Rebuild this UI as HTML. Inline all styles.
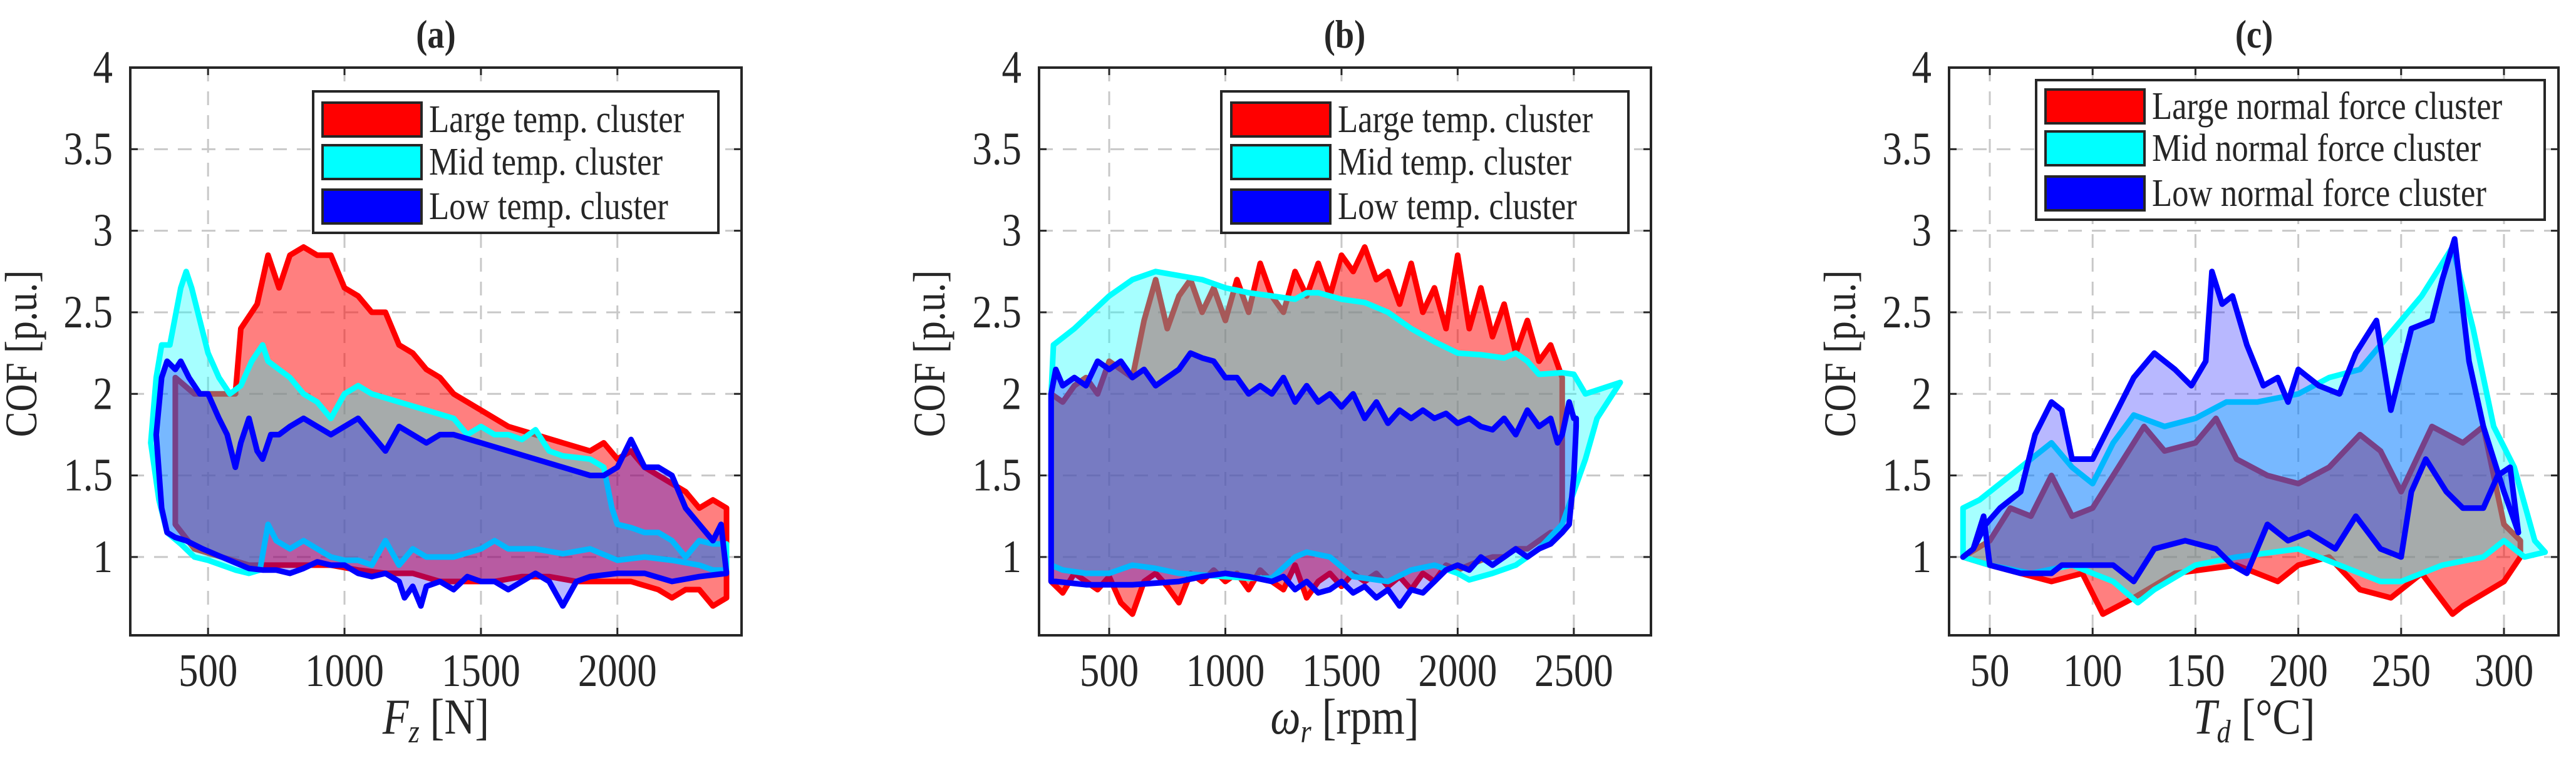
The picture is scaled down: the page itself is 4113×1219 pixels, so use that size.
<!DOCTYPE html>
<html><head><meta charset="utf-8"><style>
html,body{margin:0;padding:0;background:#fff;}
svg{display:block;}
text{font-family:"Liberation Serif",serif;fill:#262626;}
</style></head><body>
<svg id="fig" width="4113" height="1219" viewBox="0 0 4113 1219" xmlns="http://www.w3.org/2000/svg"></svg>
<script>
// ---------- Panel (a): COF vs Fz ----------
const aRedUX=[380,450,550,600,620,680,720,760,800,850,900,950,1000,1050,1100,1150,1200,1250,1300,1350,1400,1450,1500,1600,1700,1800,1900,1950,2000,2050,2100,2150,2200,2250,2300,2350,2400];
const aRedUY=[2.1,2.0,2.0,2.0,2.4,2.55,2.85,2.65,2.85,2.9,2.85,2.85,2.65,2.6,2.5,2.5,2.3,2.25,2.15,2.1,2.0,1.95,1.9,1.8,1.75,1.7,1.65,1.7,1.6,1.65,1.55,1.5,1.45,1.4,1.3,1.35,1.3];
const aRedLX=[380,450,550,650,750,850,950,1050,1150,1250,1350,1450,1550,1650,1750,1850,1950,2050,2150,2200,2250,2300,2350,2400];
const aRedLY=[1.2,1.05,1.0,0.95,0.95,0.95,0.95,0.92,0.9,0.9,0.85,0.85,0.85,0.88,0.88,0.85,0.85,0.85,0.8,0.75,0.8,0.8,0.7,0.75];
const aCyanUX=[290,310,330,360,400,420,440,470,500,540,580,620,660,700,720,760,800,850,900,950,1000,1050,1100,1200,1300,1400,1450,1500,1550,1600,1650,1700,1750,1800,1900,1950,1980,2000,2050,2100,2150,2200,2250,2300,2350,2400];
const aCyanUY=[1.7,2.1,2.3,2.3,2.65,2.75,2.65,2.45,2.25,2.1,2.0,2.05,2.2,2.3,2.2,2.15,2.1,2.0,1.95,1.85,2.0,2.05,2.0,1.95,1.9,1.85,1.75,1.8,1.75,1.75,1.72,1.78,1.65,1.62,1.6,1.55,1.3,1.2,1.18,1.15,1.15,1.1,1.0,1.1,1.08,1.08];
const aCyanLX=[290,320,350,400,450,500,550,600,650,690,720,750,800,850,900,950,1000,1050,1100,1150,1200,1250,1300,1400,1500,1550,1600,1700,1800,1900,2000,2100,2200,2300,2350,2400];
const aCyanLY=[1.7,1.35,1.15,1.08,1.0,0.98,0.95,0.92,0.9,0.92,1.2,1.1,1.05,1.1,1.05,1.0,0.98,0.98,0.95,1.1,0.95,1.05,1.0,1.0,1.05,1.1,1.05,1.05,1.02,1.05,0.98,1.0,0.98,0.95,0.92,0.92];
const aBlueUX=[310,330,350,380,400,430,470,500,540,570,600,620,650,680,700,730,760,800,850,900,950,1000,1050,1100,1150,1200,1250,1300,1350,1400,1500,1600,1700,1800,1900,1950,2000,2050,2100,2150,2200,2250,2300,2350,2380,2400];
const aBlueUY=[1.75,2.1,2.2,2.15,2.2,2.1,2.0,2.0,1.85,1.75,1.55,1.7,1.85,1.65,1.6,1.75,1.75,1.8,1.85,1.8,1.75,1.8,1.85,1.75,1.65,1.8,1.75,1.7,1.75,1.75,1.7,1.65,1.6,1.55,1.5,1.5,1.55,1.72,1.55,1.55,1.5,1.3,1.2,1.1,1.2,0.9];
const aBlueLX=[310,330,350,380,420,480,550,650,700,750,800,850,900,950,1000,1050,1100,1150,1200,1220,1250,1280,1300,1350,1400,1450,1500,1550,1600,1700,1750,1800,1850,1900,2000,2100,2200,2300,2400];
const aBlueLY=[1.75,1.3,1.15,1.12,1.1,1.05,1.0,0.93,0.92,0.92,0.9,0.93,0.97,0.95,0.95,0.9,0.88,0.9,0.85,0.75,0.82,0.7,0.82,0.85,0.8,0.88,0.85,0.85,0.8,0.9,0.85,0.7,0.85,0.88,0.9,0.9,0.85,0.88,0.9];
const aXTicks=[500,1000,1500,2000];

// ---------- Panel (b): COF vs omega_r ----------
const bRedX=[250,300,350,400,450,500,550,600,650,700,750,800,850,900,950,1000,1050,1100,1150,1200,1250,1300,1350,1400,1450,1500,1550,1600,1650,1700,1750,1800,1850,1900,1950,2000,2050,2100,2150,2200,2250,2300,2350,2400,2450];
const bRedUY=[2.0,1.95,2.05,2.1,2.0,2.2,2.15,2.1,2.45,2.7,2.4,2.6,2.7,2.5,2.65,2.45,2.7,2.5,2.8,2.6,2.5,2.75,2.6,2.8,2.6,2.85,2.75,2.9,2.7,2.75,2.55,2.8,2.5,2.65,2.4,2.85,2.4,2.65,2.35,2.55,2.25,2.45,2.2,2.3,2.1];
const bRedLY=[0.85,0.78,0.9,0.85,0.8,0.88,0.72,0.65,0.85,0.9,0.82,0.72,0.9,0.85,0.92,0.85,0.9,0.8,0.92,0.85,0.8,0.95,0.75,0.85,0.9,0.82,0.9,0.85,0.9,0.82,0.88,0.8,0.9,0.85,0.95,0.92,0.95,0.98,1.0,1.0,1.05,1.05,1.1,1.15,1.15];
const bCyanUX=[250,260,350,500,600,700,900,1000,1100,1300,1350,1400,1500,1600,1700,1800,1900,2000,2100,2200,2250,2300,2350,2450,2500,2550,2700];
const bCyanUY=[2.0,2.3,2.4,2.6,2.7,2.75,2.7,2.65,2.62,2.58,2.62,2.62,2.58,2.56,2.5,2.4,2.32,2.25,2.24,2.22,2.25,2.2,2.12,2.13,2.12,2.0,2.07];
const bCyanLX=[250,300,400,500,600,700,800,1000,1100,1200,1300,1350,1450,1550,1650,1700,1800,1900,2000,2050,2150,2250,2350,2450,2550,2600,2700];
const bCyanLY=[0.95,0.92,0.9,0.9,0.95,0.93,0.9,0.88,0.87,0.87,1.0,1.03,1.0,0.88,0.86,0.85,0.92,0.95,0.9,0.86,0.9,0.95,1.05,1.2,1.6,1.85,2.07];
const bBlueUX=[250,270,300,350,400,450,500,550,600,650,700,750,800,850,900,950,1000,1050,1100,1150,1200,1250,1300,1350,1400,1450,1500,1550,1600,1650,1700,1750,1800,1850,1900,1950,2000,2050,2100,2150,2200,2250,2300,2350,2400,2430,2450,2480,2500,2510];
const bBlueUY=[2.0,2.15,2.05,2.1,2.05,2.2,2.15,2.2,2.1,2.15,2.05,2.1,2.15,2.25,2.22,2.2,2.1,2.1,2.0,2.05,2.0,2.1,1.95,2.05,1.95,2.0,1.92,2.0,1.85,1.95,1.82,1.9,1.85,1.9,1.85,1.88,1.82,1.85,1.8,1.78,1.85,1.75,1.9,1.8,1.85,1.7,1.75,1.95,1.85,1.85];
const bBlueLX=[250,270,400,600,800,900,1000,1100,1200,1250,1300,1350,1400,1450,1500,1550,1600,1650,1700,1750,1800,1850,1900,1950,2000,2050,2100,2150,2200,2250,2300,2350,2400,2450,2480,2500,2510];
const bBlueLY=[0.85,0.85,0.83,0.83,0.85,0.88,0.9,0.88,0.85,0.88,0.8,0.85,0.78,0.8,0.85,0.78,0.82,0.75,0.8,0.7,0.8,0.78,0.85,0.92,0.95,0.92,1.0,0.95,1.0,1.05,1.0,1.05,1.08,1.15,1.2,1.5,1.8];
const bXTicks=[500,1000,1500,2000,2500];

// ---------- Panel (c): COF vs Td ----------
const cRedUX=[37,50,60,70,80,90,100,110,125,135,150,160,170,185,200,215,230,240,250,265,280,290,300,308];
const cRedUY=[1.0,1.1,1.3,1.25,1.5,1.25,1.3,1.5,1.8,1.65,1.7,1.85,1.6,1.5,1.45,1.55,1.75,1.65,1.4,1.8,1.7,1.8,1.2,1.1];
const cRedLX=[37,50,80,95,105,120,140,170,190,200,215,230,245,260,275,280,300,308];
const cRedLY=[1.0,0.95,0.85,0.9,0.65,0.75,0.9,0.95,0.85,0.95,1.0,0.8,0.75,0.9,0.65,0.7,0.85,1.0];
const cCyanUX=[37,45,60,70,80,90,100,110,120,135,150,165,180,200,215,230,240,260,275,285,295,305,315,320];
const cCyanUY=[1.3,1.35,1.5,1.6,1.7,1.55,1.45,1.7,1.87,1.8,1.85,1.95,1.95,2.0,2.1,2.15,2.3,2.6,2.9,2.4,1.8,1.55,1.1,1.03];
const cCyanLX=[37,50,70,90,110,122,130,150,170,200,220,240,250,270,290,300,310,320];
const cCyanLY=[1.0,0.95,0.9,0.95,0.85,0.72,0.8,0.95,1.0,1.05,0.95,0.85,0.85,0.95,1.0,1.1,1.0,1.03];
const cBlueUX=[37,42,48,55,65,72,80,85,90,100,110,120,130,140,148,155,158,163,168,175,183,190,195,200,210,220,228,238,245,255,265,270,276,283,290,300,307];
const cBlueUY=[1.0,1.05,1.2,1.3,1.4,1.75,1.95,1.9,1.6,1.6,1.85,2.1,2.25,2.15,2.05,2.2,2.75,2.55,2.6,2.3,2.05,2.1,1.95,2.15,2.05,2.0,2.25,2.45,1.9,2.4,2.45,2.7,2.95,2.2,1.8,1.4,1.15];
const cBlueLX=[37,42,47,50,65,80,85,95,110,120,130,145,160,168,175,185,195,205,218,228,240,250,255,262,272,280,290,297,303,307];
const cBlueLY=[1.0,1.05,1.25,0.95,0.9,0.9,0.95,0.95,0.95,0.85,1.05,1.1,1.05,0.95,0.9,1.2,1.1,1.15,1.05,1.25,1.05,1.0,1.4,1.6,1.4,1.3,1.3,1.5,1.55,1.15];
const cXTicks=[50,100,150,200,250,300];

const yTicks=[1,1.5,2,2.5,3,3.5,4];
const yTickLabels=["1","1.5","2","2.5","3","3.5","4"];

const NS="http://www.w3.org/2000/svg";
const fig=document.getElementById('fig');
function mk(tag,attrs,parent){const e=document.createElementNS(NS,tag);for(const k in attrs)e.setAttribute(k,attrs[k]);(parent||fig).appendChild(e);return e;}

const Y0=108, Y1=1015, YMIN=0.52, YMAX=4.0;
function yS(v){return Y1-(v-YMIN)/(YMAX-YMIN)*(Y1-Y0);}

function txt(parent,x,y,s,size,anchor,extra){
  const g=mk('g',{transform:`translate(${x},${y}) scale(0.85,1)`},parent);
  const t=mk('text',Object.assign({x:0,y:0,'font-size':size,'text-anchor':anchor},extra||{}),g);
  t.textContent=s;return t;
}

function panel(p){
  const g=mk('g',{});
  
  
  const xS=v=>p.L+(v-p.xmin)/(p.xmax-p.xmin)*(p.R-p.L);
  // grid
  const grid=mk('g',{stroke:'#c8c8c8','stroke-width':3,'stroke-dasharray':'22,16'},g);
  
  
  p.xt.forEach(v=>mk('line',{x1:xS(v),x2:xS(v),y1:Y0,y2:Y1},grid));
  yTicks.forEach(v=>mk('line',{x1:p.L,x2:p.R,y1:yS(v),y2:yS(v)},grid));
  // series
  const cols=[['#ff0000','rgba(255,0,0,0.5)'],['#00ffff','rgba(0,255,255,0.35)'],['#0000ff','rgba(0,0,255,0.28)']];
  const names=['red','cyan','blue'];
  p.series.forEach((s,i)=>{
    const pts=[];
    s.ux.forEach((x,k)=>pts.push(xS(x).toFixed(1)+','+yS(s.uy[k]).toFixed(1)));
    for(let k=s.lx.length-1;k>=0;k--)pts.push(xS(s.lx[k]).toFixed(1)+','+yS(s.ly[k]).toFixed(1));
    const poly=mk('polygon',{points:pts.join(' '),fill:cols[i][1],stroke:cols[i][0],'stroke-width':9,'stroke-linejoin':'round'},g);
    
    
  });
  // axes box
  const box=mk('rect',{x:p.L,y:Y0,width:p.R-p.L,height:Y1-Y0,fill:'none',stroke:'#262626','stroke-width':4},g);
  
  
  // ticks
  p.xt.forEach((v,k)=>{
    mk('line',{x1:xS(v),x2:xS(v),y1:Y1,y2:Y1-12,stroke:'#262626','stroke-width':3},g);
    mk('line',{x1:xS(v),x2:xS(v),y1:Y0,y2:Y0+12,stroke:'#262626','stroke-width':3},g);
    const t=txt(g,xS(v),1096,String(v),74,'middle');
    
    
  });
  yTicks.forEach((v,k)=>{
    mk('line',{x1:p.L,x2:p.L+12,y1:yS(v),y2:yS(v),stroke:'#262626','stroke-width':3},g);
    mk('line',{x1:p.R,x2:p.R-12,y1:yS(v),y2:yS(v),stroke:'#262626','stroke-width':3},g);
    const t=txt(g,p.L-28,yS(v)+24,yTickLabels[k],74,'end');
    
    
  });
  // title
  const ti=txt(g,p.tx,76,p.title,64,'middle',{'font-weight':'bold'});
  
  
  // y label
  const yl=mk('text',{x:0,y:0,'font-size':72,'text-anchor':'middle',transform:`translate(${p.ylx},565) rotate(-90) scale(0.85,1)`},g);
  yl.textContent='COF [p.u.]';
  
  
  // x label
  const xg=mk('g',{transform:`translate(${p.tx},1172) scale(0.85,1)`},g);
  const xl=mk('text',{x:0,y:0,'font-size':80,'text-anchor':'middle'},xg);
  
  
  const a=mk('tspan',{'font-style':'italic'},xl);a.textContent=p.xl[0];
  const b=mk('tspan',{'font-style':'italic','font-size':52,dy:14},xl);b.textContent=p.xl[1];
  const c=mk('tspan',{dy:-14},xl);c.textContent=' '+p.xl[2];
  // legend
  const lg=mk('g',{},g);
  
  
  const Lg=p.leg;
  mk('rect',{x:Lg.x0,y:Lg.y0,width:Lg.x1-Lg.x0,height:Lg.y1-Lg.y0,fill:'#fff',stroke:'#262626','stroke-width':4},lg);
  const sol=['#ff0000','#00ffff','#0000ff'];
  Lg.rows.forEach((ry,i)=>{
    const r=mk('rect',{x:Lg.px,y:ry-27,width:158,height:54,fill:sol[i],stroke:'#262626','stroke-width':4},lg);
    
    
    const t=txt(lg,Lg.px+170,ry+20,Lg.labels[i],62,'start');
    
    
  });
}

const tempLabels=['Large temp. cluster','Mid temp. cluster','Low temp. cluster'];
panel({id:'a',L:208,R:1184,xmin:215,xmax:2455,xt:aXTicks,title:'(a)',tx:696,ylx:58,xl:['F','z','[N]'],
  series:[{ux:aRedUX,uy:aRedUY,lx:aRedLX,ly:aRedLY},{ux:aCyanUX,uy:aCyanUY,lx:aCyanLX,ly:aCyanLY},{ux:aBlueUX,uy:aBlueUY,lx:aBlueLX,ly:aBlueLY}],
  leg:{x0:500,x1:1147,y0:146,y1:372,px:515,rows:[191,259,330],labels:tempLabels}});
panel({id:'b',L:1659,R:2636,xmin:198,xmax:2832,xt:bXTicks,title:'(b)',tx:2147,ylx:1508,xl:['ω','r','[rpm]'],
  series:[{ux:bRedX,uy:bRedUY,lx:bRedX,ly:bRedLY},{ux:bCyanUX,uy:bCyanUY,lx:bCyanLX,ly:bCyanLY},{ux:bBlueUX,uy:bBlueUY,lx:bBlueLX,ly:bBlueLY}],
  leg:{x0:1950,x1:2600,y0:146,y1:372,px:1966,rows:[191,259,330],labels:tempLabels}});
panel({id:'c',L:3112,R:4085,xmin:30.2,xmax:326.5,xt:cXTicks,title:'(c)',tx:3599,ylx:2962,xl:['T','d','[°C]'],
  series:[{ux:cRedUX,uy:cRedUY,lx:cRedLX,ly:cRedLY},{ux:cCyanUX,uy:cCyanUY,lx:cCyanLX,ly:cCyanLY},{ux:cBlueUX,uy:cBlueUY,lx:cBlueLX,ly:cBlueLY}],
  leg:{x0:3251,x1:4063,y0:128,y1:351,px:3266,rows:[170,237,309],labels:['Large normal force cluster','Mid normal force cluster','Low normal force cluster']}});
</script>
</body></html>
